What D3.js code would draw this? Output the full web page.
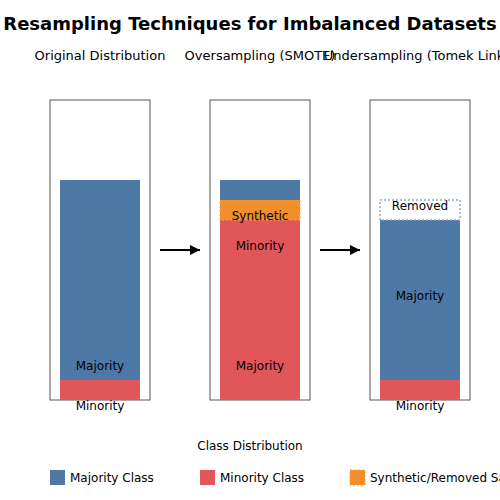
<!DOCTYPE html>
<html><head><meta charset="utf-8">
<script src="https://cdn.jsdelivr.net/npm/d3@7"></script>
<style>body{margin:0;background:#fff}text{font-family:"DejaVu Sans",sans-serif}</style>
</head><body><div id="chart"></div>
<script>
// panels and their stacked segments (units of class count)
var panels = ["Original Distribution", "Oversampling (SMOTE)", "Undersampling (Tomek Links)"];
var segments = [
	[{p: 0, y0: 0, y1: 1, kind: "min"}, {p: 0, y0: 1, y1: 11, kind: "maj"}],
	[{p: 1, y0: 0, y1: 9, kind: "min"}, {p: 1, y0: 9, y1: 10, kind: "syn"}, {p: 1, y0: 10, y1: 11, kind: "maj"}],
	[{p: 2, y0: 0, y1: 1, kind: "min"}, {p: 2, y0: 1, y1: 9, kind: "maj"}, {p: 2, y0: 9, y1: 10, kind: "rem"}]
];
var labels = [
	{p: 0, v: 1.5, t: "Majority"}, {p: 0, v: -0.5, t: "Minority"},
	{p: 1, v: 1.5, t: "Majority"}, {p: 1, v: 7.5, t: "Minority"}, {p: 1, v: 9, t: "Synthetic"},
	{p: 2, v: 9.5, t: "Removed"}, {p: 2, v: 5, t: "Majority"}, {p: 2, v: -0.5, t: "Minority"}
];
var legendItems = ["Majority Class", "Minority Class", "Synthetic/Removed Samples"];

var colors = {maj: "#4e79a7", min: "#e15759", syn: "#f28e2b", rem: "#ffffff"};

var svg = d3.select("#chart").append("svg").attr("width", 500).attr("height", 500);

var x = d3.scaleBand().domain(d3.range(3)).range([50, 470]).paddingInner(0.375);
var y = d3.scaleLinear().domain([0, 15]).range([400, 100]);

svg.append("text").attr("x", 250).attr("y", 30).attr("text-anchor", "middle")
	.style("font-size", "18px").style("font-weight", "bold")
	.text("Resampling Techniques for Imbalanced Datasets");

var g = svg.selectAll(".panel").data(panels).enter().append("g").attr("class", "panel");

g.append("text").attr("x", function(d, i){ return x(i) + x.bandwidth() / 2; })
	.attr("y", 60).attr("text-anchor", "middle").style("font-size", "13px")
	.text(function(d){ return d; });

g.append("rect").attr("x", function(d, i){ return x(i); }).attr("y", y(15))
	.attr("width", x.bandwidth()).attr("height", y(0) - y(15))
	.attr("fill", "none").attr("stroke", "#555").attr("stroke-width", 1);

// stacked bars
svg.selectAll(".seg").data(segments.flat()).enter().append("rect")
	.attr("class", "seg")
	.attr("x", function(d){ return x(d.p) + 10; })
	.attr("y", function(d){ return y(d.y1); })
	.attr("width", x.bandwidth() - 20)
	.attr("height", function(d){ return y(d.y0) - y(d.y1); })
	.attr("fill", function(d){ return colors[d.kind]; })
	.attr("stroke", function(d){ return d.kind == "syn" ? "#f5a04a" : d.kind == "rem" ? "#8fa9c8" : "none"; })
	.attr("stroke-dasharray", "2,2")
	.attr("stroke-width", function(d){ return d.kind == "rem" ? 1.5 : 1; });

svg.selectAll(".lab").data(labels).enter().append("text")
	.attr("x", function(d){ return x(d.p) + x.bandwidth() / 2; })
	.attr("y", function(d){ return y(d.v); })
	.attr("text-anchor", "middle").style("font-size", "12px")
	.text(function(d){ return d.t; });

// arrows between panels
svg.append("defs").append("marker").attr("id", "ah").attr("viewBox", "0 0 10 10")
	.attr("refX", 10).attr("refY", 5).attr("markerWidth", 5).attr("markerHeight", 5)
	.attr("orient", "auto").append("path").attr("d", "M0,0L10,5L0,10z").attr("fill", "#000");
[0, 1].forEach(function(i){
	svg.append("line").attr("x1", x(i) + x.bandwidth() + 10).attr("x2", x(i + 1) - 10)
		.attr("y1", y(7.5)).attr("y2", y(7.5))
		.attr("stroke", "#000").attr("stroke-width", 2).attr("marker-end", "url(#ah)");
});

svg.append("text").attr("x", 250).attr("y", 450).attr("text-anchor", "middle")
	.style("font-size", "12px").text("Class Distribution");

// legend
var lg = svg.selectAll(".leg").data(legendItems).enter().append("g")
	.attr("transform", function(d, i){ return "translate(" + (50 + i * 150) + ",470)"; });
lg.append("rect").attr("width", 15).attr("height", 15)
	.attr("fill", function(d, i){ return [colors.maj, colors.min, colors.syn][i]; })
	.attr("stroke", function(d, i){ return i == 2 ? "#f5a04a" : "none"; })
	.attr("stroke-dasharray", "2,2");
lg.append("text").attr("x", 20).attr("y", 12).style("font-size", "12px")
	.text(function(d){ return d; });
</script></body></html>
